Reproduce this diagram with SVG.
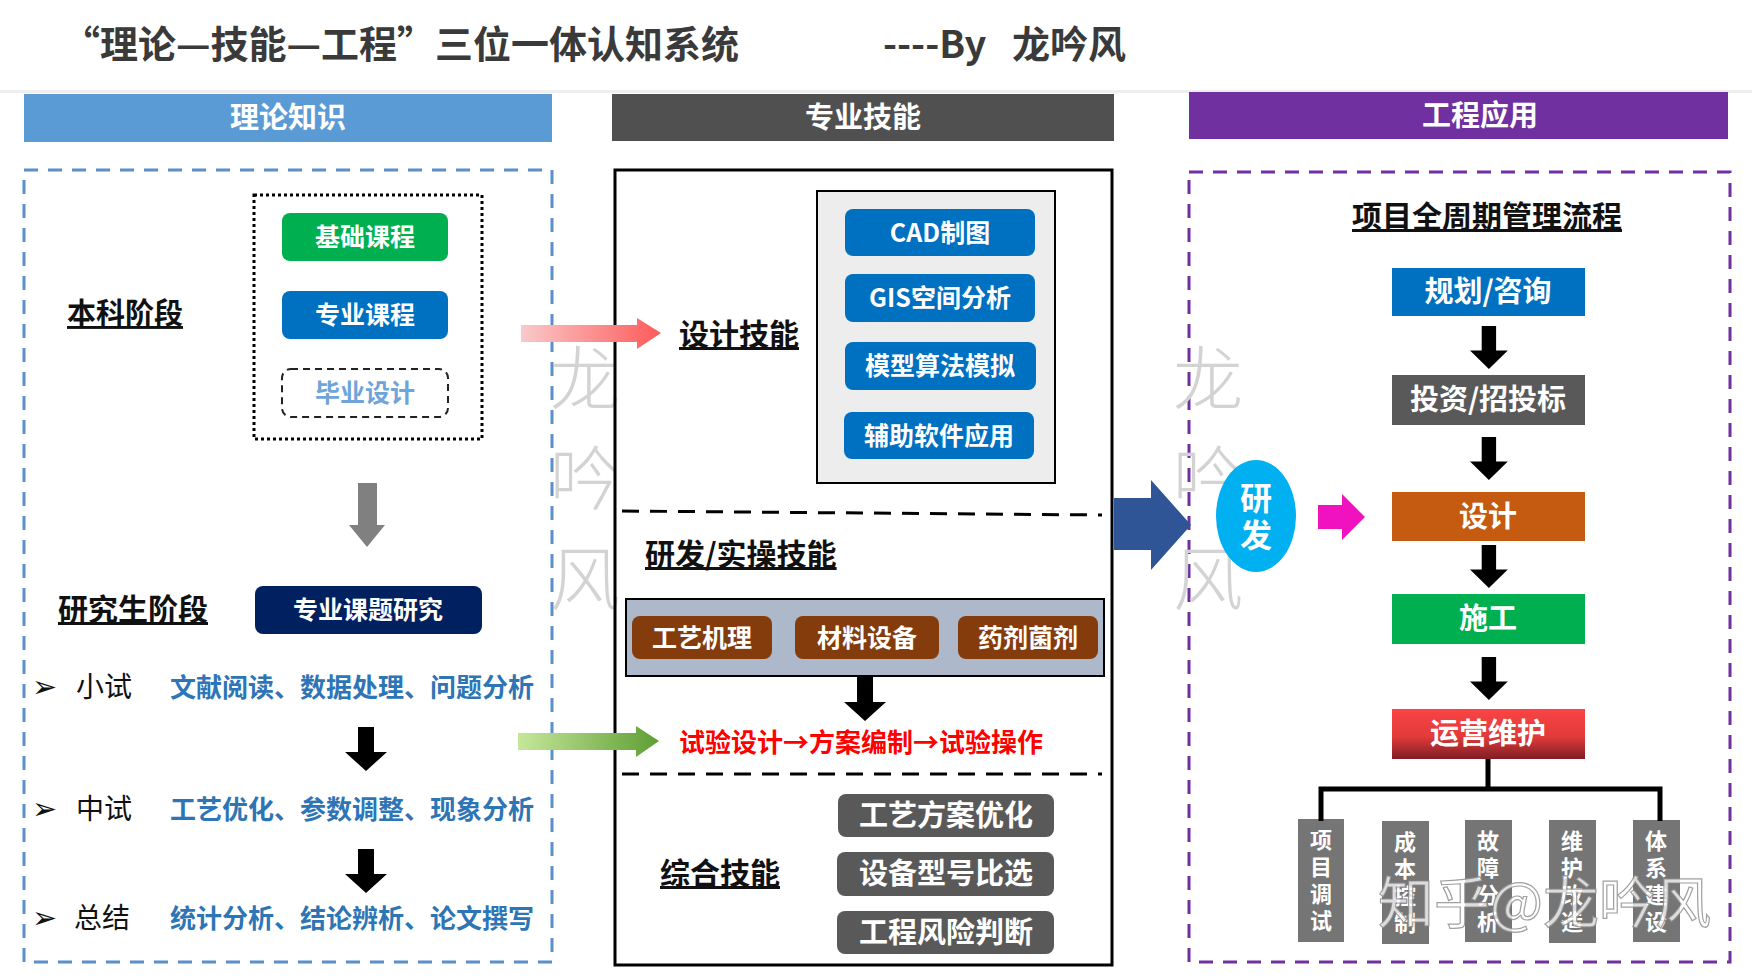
<svg xmlns="http://www.w3.org/2000/svg" width="1752" height="979" viewBox="0 0 1752 979">
<defs>
<style>
text{font-family:"Noto Sans CJK SC","Liberation Sans",sans-serif;font-weight:700;}
.t-title{font-size:38px;fill:#3A3A3A;}
.t-hdr{font-size:29px;fill:#fff;text-anchor:middle;}
.t-btn{font-size:25px;fill:#fff;text-anchor:middle;}
.t-lbl{font-size:30px;fill:#111;text-decoration:underline;}
.t-blue{font-size:26px;fill:#2E75B6;}
.t-ser{font-size:28px;fill:#111;font-weight:400;font-family:"Noto Sans CJK SC",serif;}
.t-bul{font-size:30px;fill:#111;font-weight:400;font-family:"DejaVu Sans",sans-serif;}
.t-vert{font-size:22px;fill:#fff;text-anchor:middle;}
.t-wm{font-size:70px;fill:#D3D3D3;font-weight:300;text-anchor:middle;}
.darr{fill:#000;}
</style>
<linearGradient id="gPink" x1="0" y1="0" x2="1" y2="0">
<stop offset="0" stop-color="#F9C9C9"/><stop offset="1" stop-color="#FF5A5A"/>
</linearGradient>
<linearGradient id="gGreen" x1="0" y1="0" x2="1" y2="0">
<stop offset="0" stop-color="#C6E79A"/><stop offset="1" stop-color="#5E9E34"/>
</linearGradient>
<linearGradient id="gRed" x1="0" y1="0" x2="0" y2="1">
<stop offset="0" stop-color="#F94444"/><stop offset="0.55" stop-color="#E23A3A"/><stop offset="1" stop-color="#7E1E24"/>
</linearGradient>
<path id="downArrow" d="M13,0 H29 V25 H42 L21,44 L0,25 H13 Z"/>
</defs>

<rect width="1752" height="979" fill="#fff"/>

<!-- title -->
<g id="title">
<text class="t-title" x="62" y="58">“理论—技能—工程”三位一体认知系统</text>
<text class="t-title" x="883" y="58" xml:space="preserve">----By&#160;&#160;&#160;龙吟风</text>
<rect x="0" y="90" width="1752" height="3" fill="#EEEEEE"/>
</g>

<!-- header bars -->
<g id="hdr-theory"><rect x="24" y="94" width="528" height="48" fill="#5B9BD5"/><text class="t-hdr" x="288" y="128">理论知识</text></g>
<g id="hdr-skill"><rect x="612" y="94" width="502" height="47" fill="#505050"/><text class="t-hdr" x="863" y="128">专业技能</text></g>
<g id="hdr-eng"><rect x="1189" y="92" width="539" height="47" fill="#7030A0"/><text class="t-hdr" x="1480" y="126">工程应用</text></g>

<!-- watermarks behind -->
<g id="watermark-left">
<text class="t-wm" x="585" y="405">龙</text>
<text class="t-wm" x="585" y="505">吟</text>
<text class="t-wm" x="585" y="605">风</text>
</g>

<!-- left column -->
<g id="left-box">
<rect x="24" y="170" width="528" height="792" fill="none" stroke="#5B8FC9" stroke-width="3" stroke-dasharray="14 10"/>
</g>
<g id="undergrad-group">
<rect x="254" y="195" width="228" height="244" fill="none" stroke="#000" stroke-width="3" stroke-dasharray="3 3"/>
</g>
<g id="label-undergrad"><text class="t-lbl" x="67" y="324" style="font-size:29px">本科阶段</text></g>
<g id="node-basic"><rect x="282" y="213" width="166" height="48" rx="8" fill="#00B050"/><text class="t-btn" x="365" y="246">基础课程</text></g>
<g id="node-major"><rect x="282" y="291" width="166" height="48" rx="8" fill="#0070C0"/><text class="t-btn" x="365" y="324">专业课程</text></g>
<g id="node-thesis"><rect x="282" y="369" width="166" height="48" rx="9" fill="#fff" stroke="#222" stroke-width="2" stroke-dasharray="7 5"/><text class="t-btn" x="365" y="402" style="fill:#6FA4DA">毕业设计</text></g>
<g id="label-grad"><text class="t-lbl" x="58" y="620">研究生阶段</text></g>
<g id="node-research"><rect x="255" y="586" width="227" height="48" rx="8" fill="#002060"/><text class="t-btn" x="368" y="619">专业课题研究</text></g>

<g id="row-small">
<text class="t-bul" x="32" y="697">➢</text>
<text class="t-ser" x="76" y="697">小试</text>
<text class="t-blue" x="170" y="697">文献阅读、数据处理、问题分析</text>
</g>
<g id="row-mid">
<text class="t-bul" x="32" y="819">➢</text>
<text class="t-ser" x="76" y="819">中试</text>
<text class="t-blue" x="170" y="819">工艺优化、参数调整、现象分析</text>
</g>
<g id="row-sum">
<text class="t-bul" x="32" y="928">➢</text>
<text class="t-ser" x="74" y="928">总结</text>
<text class="t-blue" x="170" y="928">统计分析、结论辨析、论文撰写</text>
</g>

<!-- middle column -->
<g id="mid-box">
<rect x="615" y="170" width="497" height="795" fill="none" stroke="#000" stroke-width="3"/>
</g>
<g id="label-design"><text class="t-lbl" x="679" y="345">设计技能</text></g>
<g id="design-panel">
<rect x="817" y="191" width="238" height="292" fill="#EDEDED" stroke="#000" stroke-width="2"/>
</g>
<g id="node-cad"><rect x="845" y="209" width="190" height="47" rx="8" fill="#0070C0"/><text class="t-btn" x="940" y="242">CAD制图</text></g>
<g id="node-gis"><rect x="845" y="274" width="190" height="48" rx="8" fill="#0070C0"/><text class="t-btn" x="940" y="307">GIS空间分析</text></g>
<g id="node-model"><rect x="845" y="342" width="191" height="48" rx="8" fill="#0070C0"/><text class="t-btn" x="940" y="375">模型算法模拟</text></g>
<g id="node-soft"><rect x="844" y="412" width="190" height="47" rx="8" fill="#0070C0"/><text class="t-btn" x="939" y="445">辅助软件应用</text></g>

<g id="sep1"><line x1="622" y1="511" x2="1102" y2="515" stroke="#000" stroke-width="3" stroke-dasharray="17 11"/></g>
<g id="label-rd"><text class="t-lbl" x="645" y="565">研发/实操技能</text></g>
<g id="rd-panel"><rect x="626" y="599" width="478" height="77" fill="#ADB9CA" stroke="#000" stroke-width="2"/></g>
<g id="node-mech"><rect x="632" y="616" width="140" height="43" rx="8" fill="#843C0C"/><text class="t-btn" x="702" y="647">工艺机理</text></g>
<g id="node-mat"><rect x="795" y="616" width="144" height="43" rx="8" fill="#843C0C"/><text class="t-btn" x="867" y="647">材料设备</text></g>
<g id="node-agent"><rect x="958" y="616" width="140" height="43" rx="8" fill="#843C0C"/><text class="t-btn" x="1028" y="647">药剂菌剂</text></g>
<g id="label-exp"><text x="679" y="752" style="font-size:26px;fill:#FF0000">试验设计→方案编制→试验操作</text></g>
<g id="sep2"><line x1="622" y1="774" x2="1102" y2="774" stroke="#000" stroke-width="3" stroke-dasharray="17 11"/></g>
<g id="label-comp"><text class="t-lbl" x="660" y="884">综合技能</text></g>
<g id="node-opt"><rect x="838" y="794" width="216" height="43" rx="8" fill="#595959"/><text class="t-btn" x="946" y="826" style="font-size:29px">工艺方案优化</text></g>
<g id="node-equip"><rect x="837" y="852" width="217" height="44" rx="8" fill="#595959"/><text class="t-btn" x="946" y="884" style="font-size:29px">设备型号比选</text></g>
<g id="node-risk"><rect x="837" y="911" width="217" height="43" rx="8" fill="#595959"/><text class="t-btn" x="946" y="943" style="font-size:29px">工程风险判断</text></g>

<!-- right column -->
<g id="right-box">
<rect x="1189" y="172" width="541" height="790" fill="none" stroke="#7030A0" stroke-width="3" stroke-dasharray="14 10"/>
</g>
<g id="watermark-right">
<text class="t-wm" x="1208" y="405">龙</text>
<text class="t-wm" x="1208" y="505">吟</text>
<text class="t-wm" x="1208" y="605">风</text>
</g>
<g id="label-cycle"><text class="t-lbl" x="1352" y="227">项目全周期管理流程</text></g>
<g id="node-plan"><rect x="1392" y="268" width="193" height="48" fill="#0070C0"/><text class="t-btn" x="1488" y="302" style="font-size:29px">规划/咨询</text></g>
<g id="node-invest"><rect x="1392" y="375" width="193" height="50" fill="#595959"/><text class="t-btn" x="1488" y="410" style="font-size:29px">投资/招投标</text></g>
<g id="node-design"><rect x="1392" y="492" width="193" height="49" fill="#C55A11"/><text class="t-btn" x="1488" y="527" style="font-size:29px">设计</text></g>
<g id="node-build"><rect x="1392" y="594" width="193" height="50" fill="#00B050"/><text class="t-btn" x="1488" y="629" style="font-size:29px">施工</text></g>
<g id="node-om"><rect x="1392" y="709" width="193" height="50" fill="url(#gRed)"/><text class="t-btn" x="1488" y="744" style="font-size:29px">运营维护</text></g>

<g id="node-debug"><rect x="1298" y="819" width="46" height="123" fill="#757575"/>
<text class="t-vert" x="1321" y="848">项</text><text class="t-vert" x="1321" y="875">目</text><text class="t-vert" x="1321" y="902">调</text><text class="t-vert" x="1321" y="929">试</text></g>
<g id="node-cost"><rect x="1382" y="821" width="47" height="123" fill="#757575"/>
<text class="t-vert" x="1405" y="850">成</text><text class="t-vert" x="1405" y="877">本</text><text class="t-vert" x="1405" y="904">控</text><text class="t-vert" x="1405" y="931">制</text></g>
<g id="node-fault"><rect x="1465" y="820" width="47" height="122" fill="#757575"/>
<text class="t-vert" x="1488" y="849">故</text><text class="t-vert" x="1488" y="876">障</text><text class="t-vert" x="1488" y="903">分</text><text class="t-vert" x="1488" y="930">析</text></g>
<g id="node-maint"><rect x="1549" y="820" width="47" height="123" fill="#757575"/>
<text class="t-vert" x="1572" y="849">维</text><text class="t-vert" x="1572" y="876">护</text><text class="t-vert" x="1572" y="903">改</text><text class="t-vert" x="1572" y="930">造</text></g>
<g id="node-system"><rect x="1633" y="820" width="47" height="122" fill="#757575"/>
<text class="t-vert" x="1656" y="849">体</text><text class="t-vert" x="1656" y="876">系</text><text class="t-vert" x="1656" y="903">建</text><text class="t-vert" x="1656" y="930">设</text></g>

<g id="node-rd"><ellipse cx="1256" cy="516" rx="40" ry="56" fill="#00B0F0"/>
<text x="1256" y="510" style="font-size:32px;fill:#fff;text-anchor:middle">研</text>
<text x="1256" y="547" style="font-size:32px;fill:#fff;text-anchor:middle">发</text></g>

<!-- connectors -->
<g id="connectors">
<path d="M521,325 H637 V318 L661,333 L637,349 V342 H521 Z" fill="url(#gPink)"/>
<path d="M518,733 H636 V726 L659,741 L636,757 V750 H518 Z" fill="url(#gGreen)"/>
<path d="M358,483 H377 V525 H385 L367,547 L349,525 H358 Z" fill="#808080"/>
<use href="#downArrow" x="345" y="727" class="darr"/>
<use href="#downArrow" x="345" y="849" class="darr"/>
<use href="#downArrow" x="844" y="677" class="darr"/>
<path d="M1114,498 H1151 V480 L1191,525 L1151,570 V550 H1114 Z" fill="#2F5597"/>
<path d="M1318,505 H1342 V494 L1365,517 L1342,540 V529 H1318 Z" fill="#F012BE"/>
<g transform="translate(1470,326) scale(0.9,0.98)"><use href="#downArrow" class="darr"/></g>
<g transform="translate(1470,437) scale(0.9,0.98)"><use href="#downArrow" class="darr"/></g>
<g transform="translate(1470,545) scale(0.9,0.98)"><use href="#downArrow" class="darr"/></g>
<g transform="translate(1470,657) scale(0.9,0.98)"><use href="#downArrow" class="darr"/></g>
<path d="M1488,759 V789 M1321,821 V789 H1660 V821" fill="none" stroke="#000" stroke-width="5"/>
</g>

<g id="watermark-zhihu">
<text x="1378" y="923" style="font-size:56px;font-weight:400;fill:#fff;fill-opacity:0.75;stroke:#888;stroke-width:1.2;stroke-opacity:0.8">知乎@龙吟风</text>
</g>
</svg>
